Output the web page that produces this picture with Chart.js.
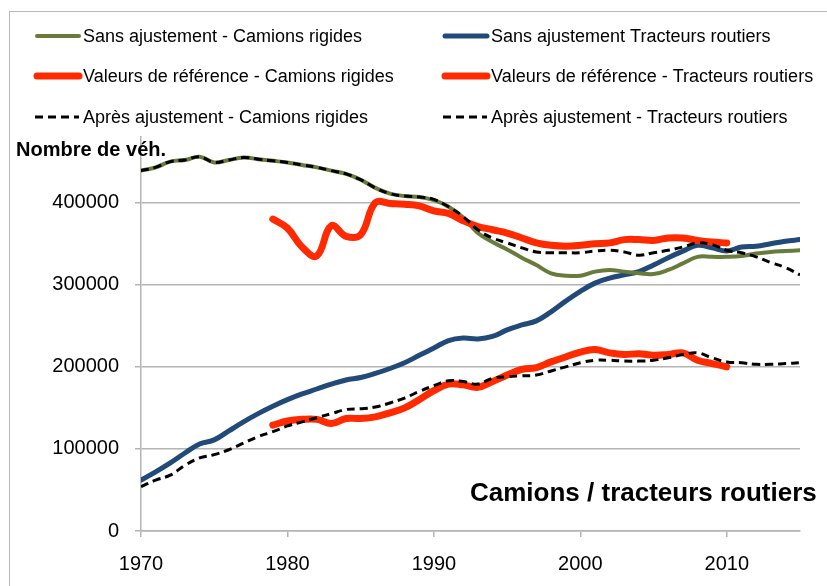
<!DOCTYPE html>
<html>
<head>
<meta charset="utf-8">
<script src="https://cdn.jsdelivr.net/npm/chart.js@4/dist/chart.umd.min.js"></script>
<style>
  html, body { margin: 0; padding: 0; background: #fff; }
  #wrap { position: relative; width: 827px; height: 586px; }
</style>
</head>
<body>
<div id="wrap"><canvas id="myChart" width="827" height="586"></canvas></div>
<script>
// years on the x axis
const years = [];
for (let y = 1970; y <= 2015; y++) years.push(y);

// values (nombre de vehicules)
const sansAjustRigides = [439000,443000,450000,452000,456000,449000,452000,455000,453000,451000,
  449000,446000,443000,439000,435000,428000,418000,411000,408000,407000,
  403000,395000,382000,363000,352000,343000,333000,324000,314000,311000,
  311000,316000,318000,316000,314000,313000,318000,326000,334000,334000,
  334000,335000,338000,340000,341000,342000];
const sansAjustTracteurs = [62000,72000,83000,95000,106000,111000,122000,133000,143000,152000,
  160000,167000,173000,179000,184000,187000,192000,198000,205000,214000,
  223000,232000,235000,234000,237000,245000,251000,256000,267000,280000,
  292000,302000,308000,312000,316000,324000,333000,341000,348000,345000,
  341000,346000,347000,350000,353000,355000];
const refRigides = [null,null,null,null,null,null,null,null,null,380000,
  369000,346000,335000,372000,359000,361000,400000,399000,398000,396000,
  390000,387000,378000,371000,367000,363000,357000,351000,348000,347000,
  348000,350000,351000,355000,355000,354000,357000,357000,354000,352000,
  351000,null,null,null,null,null];
const refTracteurs = [null,null,null,null,null,null,null,null,null,129000,
  134000,136000,136000,131000,137000,137000,139000,144000,150000,160000,
  171000,179000,178000,175000,182000,190000,197000,199000,206000,212000,
  218000,221000,217000,215000,216000,214000,215000,217000,208000,204000,
  200000,null,null,null,null,null];
const apresRigides = [439000,443000,450000,452000,456000,449000,452000,455000,453000,451000,
  449000,446000,443000,439000,435000,428000,418000,411000,408000,407000,
  404000,395000,383000,367000,357000,351000,345000,340000,339000,339000,
  339000,341000,342000,340000,336000,339000,342000,346000,351000,349000,
  342000,339000,334000,327000,321000,312000];
const apresTracteurs = [54000,62000,68000,80000,89000,93000,99000,107000,115000,121000,
  128000,133000,138000,143000,148000,149000,151000,156000,162000,170000,
  177000,183000,182000,179000,186000,188000,189000,190000,195000,200000,
  205000,208000,208000,207000,207000,208000,211000,215000,217000,211000,
  206000,205000,203000,203000,204000,205000];

const labels = [
  "Sans ajustement - Camions rigides",
  "Sans ajustement Tracteurs routiers",
  "Valeurs de référence - Camions rigides",
  "Valeurs de référence - Tracteurs routiers",
  "Après ajustement - Camions rigides",
  "Après ajustement - Tracteurs routiers"
];
const yTicks = [0, 100000, 200000, 300000, 400000];
const xTicks = [1970, 1980, 1990, 2000, 2010];

const FONT = "'Liberation Sans', Arial, sans-serif";
const GRID = "#b4b4b4";

function pts(arr) {
  return years.map((yr, i) => ({ x: yr, y: arr[i] }));
}

function line(label, arr, color, width, order, dashed) {
  return {
    label: label,
    data: pts(arr),
    borderColor: color,
    backgroundColor: color,
    borderWidth: width,
    borderDash: dashed ? [8, 5] : [],
    borderCapStyle: dashed ? "butt" : "round",
    borderJoinStyle: "round",
    pointRadius: 0,
    tension: 0.4,
    spanGaps: false,
    order: order,
    fill: false
  };
}

// legend in 2 columns, 3 rows + border + free texts
const extras = {
  id: "extras",
  beforeDraw(chart) {
    const ctx = chart.ctx;
    ctx.save();
    ctx.fillStyle = "#fff";
    ctx.fillRect(0, 0, chart.width, chart.height);
    ctx.strokeStyle = "#b8b8b8";
    ctx.lineWidth = 1;
    ctx.strokeRect(9.5, 11.5, 900, 700);
    ctx.restore();
  },
  afterDraw(chart) {
    const ctx = chart.ctx;
    ctx.save();
    const colX = [35, 443];
    const rowY = [36, 76, 117];
    chart.data.datasets.forEach((ds, i) => {
      const cx = colX[i % 2], cy = rowY[Math.floor(i / 2)];
      ctx.beginPath();
      ctx.strokeStyle = ds.borderColor;
      ctx.lineWidth = ds.borderWidth;
      ctx.lineCap = ds.borderCapStyle;
      ctx.setLineDash(ds.borderDash);
      ctx.moveTo(cx + (ds.borderCapStyle === "round" ? 2 : 0), cy);
      ctx.lineTo(cx + 44, cy);
      ctx.stroke();
      ctx.setLineDash([]);
      ctx.fillStyle = "#000";
      ctx.font = "18px " + FONT;
      ctx.textBaseline = "middle";
      ctx.textAlign = "left";
      ctx.fillText(ds.label, cx + 48, cy + 1);
    });
    ctx.font = "bold 20px " + FONT;
    ctx.textBaseline = "alphabetic";
    ctx.fillText("Nombre de véh.", 16, 156);
    ctx.font = "bold 26px " + FONT;
    ctx.fillText("Camions / tracteurs routiers", 470, 501);
    ctx.restore();
  }
};

const myChart = new Chart("myChart", {
  type: "line",
  data: {
    datasets: [
      line(labels[0], sansAjustRigides, "#687b3b", 4, 2, false),
      line(labels[1], sansAjustTracteurs, "#214a78", 5, 2, false),
      line(labels[2], refRigides, "#ff2a00", 7, 1, false),
      line(labels[3], refTracteurs, "#ff2a00", 7, 1, false),
      line(labels[4], apresRigides, "#000000", 3, 0, true),
      line(labels[5], apresTracteurs, "#000000", 3, 0, true)
    ]
  },
  options: {
    responsive: false,
    animation: false,
    layout: { padding: { left: 0, right: 27, top: 137, bottom: 0 } },
    plugins: {
      legend: { display: false },
      tooltip: { enabled: false },
      title: { display: false }
    },
    scales: {
      x: {
        type: "linear",
        min: 1970,
        max: 2015,
        afterFit: (s) => { s.height = 55; },
        afterBuildTicks: (s) => { s.ticks = xTicks.map(v => ({ value: v })); },
        grid: { drawOnChartArea: false, drawTicks: true, tickLength: 6, color: GRID, lineWidth: 1.5 },
        border: { display: true, color: GRID, width: 1.5 },
        ticks: { color: "#000", font: { family: FONT, size: 20 }, padding: 15, maxRotation: 0,
          callback: (v) => String(v) }
      },
      y: {
        min: 0,
        max: 480000,
        afterFit: (s) => { s.width = 141; },
        afterBuildTicks: (s) => { s.ticks = yTicks.map(v => ({ value: v })); },
        grid: { drawOnChartArea: true, drawTicks: true, tickLength: 6, color: GRID, lineWidth: 1.5 },
        border: { display: true, color: GRID, width: 1.5 },
        ticks: { color: "#000", font: { family: FONT, size: 20 }, padding: 16,
          callback: (v) => String(v) }
      }
    }
  },
  plugins: [extras]
});
</script>
</body>
</html>
